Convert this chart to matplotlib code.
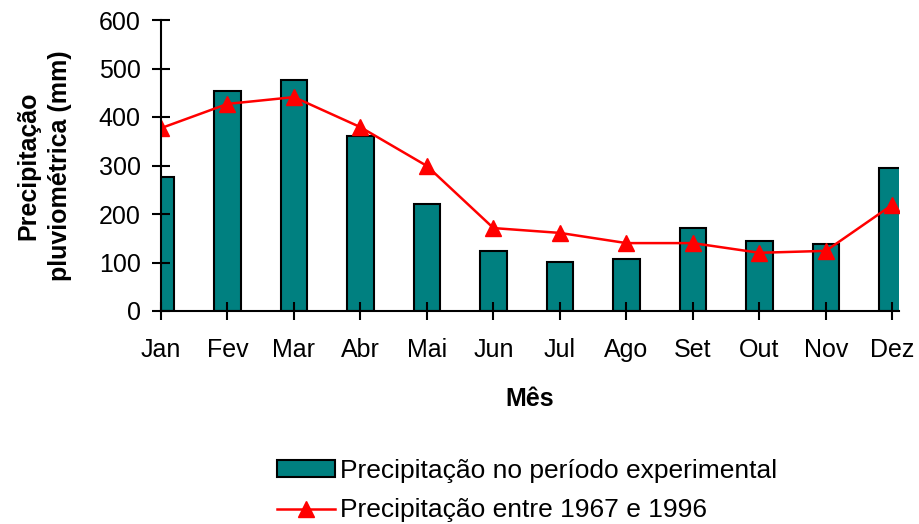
import matplotlib
matplotlib.use("Agg")
import matplotlib.pyplot as plt

plt.rcParams["font.family"] = ["Liberation Sans", "DejaVu Sans"]

meses = ["Jan", "Fev", "Mar", "Abr", "Mai", "Jun", "Jul", "Ago", "Set", "Out", "Nov", "Dez"]
precip_experimental = [277, 454, 476, 360, 221, 124, 102, 107, 172, 144, 138, 295]
precip_1967_1996 = [377, 427, 441, 379, 299, 171, 161, 140, 140, 120, 124, 219]

fig = plt.figure(figsize=(9.2, 5.24), dpi=100)
ax = fig.add_axes([161 / 920, 1 - 311 / 524, (899 - 161) / 920, (311 - 20) / 524])

x = list(range(len(meses)))
barras = ax.bar(x, precip_experimental, width=0.4, color="#008080", edgecolor="black", linewidth=1.5,
                label="Precipitação no período experimental")
linha, = ax.plot(x, precip_1967_1996, color="red", linewidth=1.8, marker="^", markersize=11,
                 label="Precipitação entre 1967 e 1996")

ax.set_xlim(0, 11.1)
ax.set_ylim(0, 600)
ax.set_yticks(range(0, 601, 100))
ax.set_xticks(x)
ax.set_xticklabels(meses)

for s in ["top", "right"]:
    ax.spines[s].set_visible(False)
for s in ["left", "bottom"]:
    ax.spines[s].set_linewidth(1.5)
    ax.spines[s].set_zorder(5)

ax.tick_params(axis="both", direction="inout", length=13, width=1.5, labelsize=18)
ax.tick_params(axis="x", pad=13)
ax.tick_params(axis="y", pad=8)

ax.set_xlabel("Mês", fontsize=18, fontweight="bold", labelpad=18)
ax.set_ylabel("Precipitação\npluviométrica (mm)", fontsize=18, fontweight="bold", labelpad=19,
              linespacing=1.45)

fig.legend([barras, linha], [barras.get_label(), linha.get_label()], loc="upper left",
           bbox_to_anchor=(266 / 920, 1 - 448 / 524), frameon=False,
           fontsize=19, handlelength=2.2, handleheight=0.6, handletextpad=0.2,
           labelspacing=0.6, borderaxespad=0)

fig.savefig("out.png", dpi=100)
